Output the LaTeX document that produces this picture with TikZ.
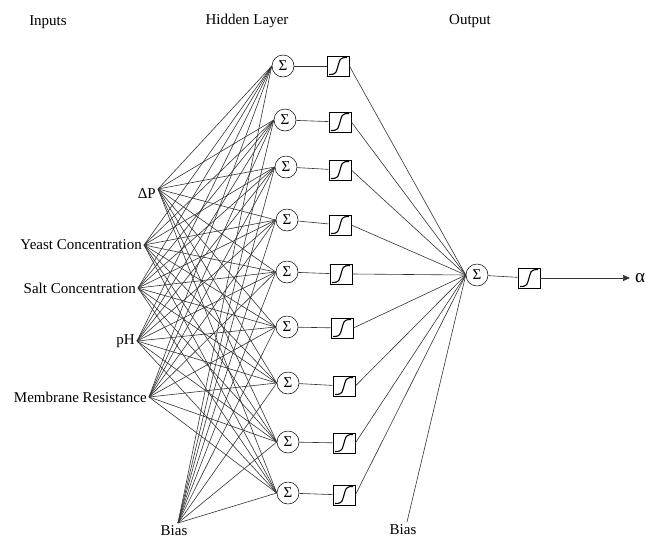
\documentclass[tikz,border=0pt]{standalone}
\usepackage{fontspec}
\setmainfont{Liberation Serif}
\usetikzlibrary{arrows.meta,positioning}

\tikzset{
	sumnode/.style={draw, circle, minimum size=22pt, inner sep=0pt, line width=0.5pt, font=\fontsize{15}{15}\selectfont},
	actbox/.style={draw, rectangle, minimum width=22pt, minimum height=20pt, inner sep=0pt, line width=0.7pt,
		path picture={\draw[line width=1.1pt] ([shift={(2pt,1.5pt)}]path picture bounding box.south west)
			.. controls +(8pt,0pt) and +(-2pt,-6pt) .. (path picture bounding box.center)
			.. controls +(2pt,6pt) and +(-8pt,0pt) .. ([shift={(-2pt,-1.5pt)}]path picture bounding box.north east);}},
	wire/.style={draw=black!80, line width=0.6pt},
	lbl/.style={font=\fontsize{15}{17}\selectfont, inner sep=1pt}
}

\begin{document}
\begin{tikzpicture}[x=1pt, y=-1pt]
	\useasboundingbox (0,0) rectangle (650,544);

	% titles
	\node[lbl] (tin) at (48,22) {Inputs};
	\node[lbl] (thid) at (247,21) {Hidden Layer};
	\node[lbl] (tout) at (470,21) {Output};

	% inputs
	\coordinate (in1) at (158,189);
	\coordinate (in2) at (144,245);
	\coordinate (in3) at (138,288);
	\coordinate (in4) at (137,341);
	\coordinate (in5) at (149,397);
	\coordinate (in6) at (178,523);
	\node[lbl, left=1pt of in1, yshift=-5pt] (x1) {ΔP};
	\node[lbl, left=1pt of in2] (x2) {Yeast Concentration};
	\node[lbl, left=1pt of in3] (x3) {Salt Concentration};
	\node[lbl, left=1pt of in4] (x4) {pH};
	\node[lbl, left=1pt of in5] (x5) {Membrane Resistance};
	\node[lbl, below=1pt of in6, xshift=-4pt] (x6) {Bias};

	% hidden layer
	\foreach \i/\cx/\cy/\bx/\by in {1/283/66/338/66, 2/285/120/340/122, 3/286/167/340/170,
		4/287/220/340/225, 5/287/272/341/274, 6/287/327/342/328, 7/288/383/344/386,
		8/288/442/344/443, 9/288/493/344/495} {
		\node[sumnode] (h\i) at (\cx,\cy) {Σ};
		\node[actbox] (b\i) at (\bx,\by) {};
		\draw[wire] (h\i) -- (b\i);
	}

	% output
	\node[sumnode] (o) at (477,275) {Σ};
	\node[actbox] (ob) at (529,278) {};
	\coordinate (oend) at (630,278);
	\node[lbl, right=4pt of oend, font=\fontsize{19}{19}\selectfont] (alpha) {α};
	\coordinate (ob2) at (407,522);
	\node[lbl, below=1pt of ob2, xshift=-4pt] (xb) {Bias};

	% connections
	\foreach \j in {1,...,6}
		\foreach \i in {1,...,9}
			\draw[wire] (in\j) -- (h\i.west);
	\foreach \i in {1,...,9}
		\draw[wire] (b\i.east) -- (o.west);
	\draw[wire] (ob2) -- (o.west);
	\draw[wire] (o) -- (ob);
	\draw[wire, -{Triangle[length=7pt,width=6pt]}] (ob) -- (oend);
\end{tikzpicture}
\end{document}
